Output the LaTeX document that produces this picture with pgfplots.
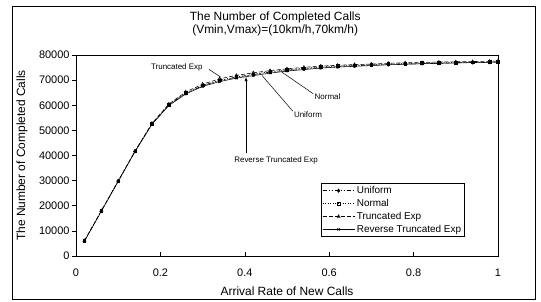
\documentclass[border=0pt]{standalone}
\usepackage{pgfplots}
\pgfplotsset{compat=1.18}
\usepackage{pgfplotstable}
\usepackage{fontspec}
\setmainfont{Liberation Sans}
\pgfplotstableread{
x U N T R
0.02 6000 6000 6100 5900
0.06 17900 17900 18000 17800
0.10 29800 29800 29900 29700
0.14 41700 41700 41800 41600
0.18 52600 52600 52800 52400
0.22 60100 60200 60500 59900
0.26 64800 64900 65300 64500
0.30 67800 67900 68400 67500
0.34 69800 69900 70500 69400
0.38 71200 71300 71900 70800
0.42 72200 72300 72900 71800
0.46 73200 73400 73800 72800
0.50 73900 74100 74500 73600
0.54 74500 74700 75100 74200
0.58 75000 75200 75600 74800
0.62 75400 75600 75900 75200
0.66 75700 75900 76200 75500
0.70 76000 76200 76400 75800
0.74 76200 76400 76700 76100
0.78 76400 76600 76900 76300
0.82 76600 76800 77000 76500
0.86 76700 76900 77200 76700
0.90 76900 77000 77300 76800
0.94 77000 77100 77400 77000
0.98 77100 77200 77500 77100
1.00 77200 77300 77600 77200
}\datatable
\begin{document}
\begin{tikzpicture}
\path (0bp,0bp) rectangle (541bp,302bp);
\draw[black, line width=0.8bp] (12bp,3bp) rectangle (535bp,296bp);
\begin{axis}[
  at={(76bp,46bp)}, anchor=south west,
  scale only axis, width=422bp, height=201bp,
  xmin=0, xmax=1, ymin=0, ymax=80000,
  xtick={0,0.2,0.4,0.6,0.8,1},
  ytick={0,10000,20000,30000,40000,50000,60000,70000,80000},
  scaled y ticks=false,
  tick pos=left,
  tick align=inside,
  major tick length=3.5bp,
  y tick style={xshift=-3.5bp},
  /pgf/number format/fixed,
  /pgf/number format/1000 sep={},
  /pgf/number format/assume math mode=true,
  tick label style={font=\fontsize{11}{13}\selectfont},
  xticklabel style={yshift=-9bp},
  yticklabel style={xshift=-3bp},
  axis line style={black, line width=0.6bp},
  tick style={black, line width=0.6bp},
  title={The Number of Completed Calls\\(Vmin,Vmax)=(10km/h,70km/h)},
  title style={align=center, font=\fontsize{12}{13.4}\selectfont, at={(axis description cs:0.472,1.125)}, anchor=center},
  xlabel={Arrival Rate of New Calls},
  xlabel style={font=\fontsize{12}{14}\selectfont, at={(axis description cs:0.5,-0.174)}, anchor=center},
  ylabel={The Number of Completed Calls},
  ylabel style={font=\fontsize{12}{14}\selectfont, at={(axis description cs:-0.128,0.5)}, anchor=center},
  legend style={at={(axis description cs:0.5806,0.363)}, anchor=north west,
    font=\fontsize{10}{12}\selectfont, draw=black, line width=0.6bp,
    inner sep=1bp, row sep=0.2bp, cells={anchor=west},
    legend image code/.code={\draw[#1, mark repeat=2, mark phase=2] plot coordinates {(0bp,0bp) (16bp,0bp) (32bp,0bp)};}},
  legend cell align=left,
]
\addplot[black, line width=0.55bp, dash pattern=on 4bp off 2bp on 1bp off 2bp on 1bp off 2bp, mark=diamond*, mark size=1.7bp, mark options={solid}] table[x=x,y=U] {\datatable};
\addlegendentry{Uniform}
\addplot[black, line width=0.55bp, dash pattern=on 1bp off 1.5bp, mark=square, mark size=1.3bp, mark options={solid}] table[x=x,y=N] {\datatable};
\addlegendentry{Normal}
\addplot[black, line width=0.55bp, dash pattern=on 4bp off 2bp, mark=triangle, mark size=1.7bp, mark options={solid}] table[x=x,y=T] {\datatable};
\addlegendentry{Truncated Exp}
\addplot[black, line width=0.55bp, mark=x, mark size=1.7bp, mark options={solid}] table[x=x,y=R] {\datatable};
\addlegendentry{Reverse Truncated Exp}
% annotations
\node[font=\fontsize{8}{9}\selectfont, anchor=center] at (axis cs:0.239,75200) {Truncated Exp};
\draw[black, line width=0.5bp] (axis cs:0.315,74300) -- (axis cs:0.343,71200);
\node[font=\fontsize{8}{9}\selectfont, anchor=center] at (axis cs:0.474,38200) {Reverse Truncated Exp};
\draw[black, line width=0.5bp, -latex] (axis cs:0.403,40800) -- (axis cs:0.403,71300);
\node[font=\fontsize{8}{9}\selectfont, anchor=west, inner sep=0.5bp] at (axis cs:0.515,56100) {Uniform};
\draw[black, line width=0.5bp] (axis cs:0.441,71800) -- (axis cs:0.514,57600);
\node[font=\fontsize{8}{9}\selectfont, anchor=west, inner sep=0.5bp] at (axis cs:0.564,63400) {Normal};
\draw[black, line width=0.5bp] (axis cs:0.487,73300) -- (axis cs:0.562,64600);
\end{axis}
\end{tikzpicture}
\end{document}
